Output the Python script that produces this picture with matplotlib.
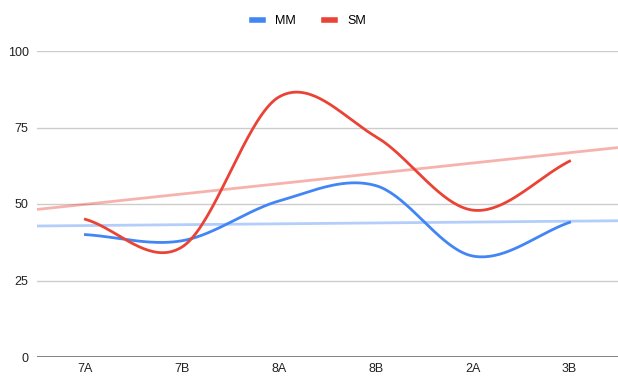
import numpy as np
import matplotlib
matplotlib.use("Agg")
import matplotlib.pyplot as plt
from matplotlib.lines import Line2D

plt.rcParams['font.family'] = ['Liberation Sans', 'DejaVu Sans']

# data
categories = ['7A', '7B', '8A', '8B', '2A', '3B']
mm_values = [40, 38, 51, 56, 33, 44]
sm_values = [45, 36, 85, 72, 48, 64]
y_ticks = [0, 25, 50, 75, 100]

BLUE = '#4285F4'
RED = '#EA4335'


def smooth(xs, ys, steps=40):
	# cardinal (catmull-rom) curve through the points, like sheets "smooth"
	xs = np.asarray(xs, float)
	ys = np.asarray(ys, float)
	n = len(xs)
	m = np.zeros(n)
	for i in range(n):
		if i == 0:
			m[i] = (ys[1] - ys[0]) / (xs[1] - xs[0])
		elif i == n - 1:
			m[i] = (ys[-1] - ys[-2]) / (xs[-1] - xs[-2])
		else:
			m[i] = (ys[i + 1] - ys[i - 1]) / (xs[i + 1] - xs[i - 1])
	px, py = [], []
	for i in range(n - 1):
		h = xs[i + 1] - xs[i]
		t = np.linspace(0, 1, steps, endpoint=False)
		h00 = 2 * t**3 - 3 * t**2 + 1
		h10 = t**3 - 2 * t**2 + t
		h01 = -2 * t**3 + 3 * t**2
		h11 = t**3 - t**2
		px.extend(xs[i] + t * h)
		py.extend(h00 * ys[i] + h10 * h * m[i] + h01 * ys[i + 1] + h11 * h * m[i + 1])
	px.append(xs[-1])
	py.append(ys[-1])
	return np.array(px), np.array(py)


x = np.arange(len(categories))

fig = plt.figure(figsize=(6.18, 3.76), dpi=100)
ax = fig.add_axes([37 / 618, 19 / 376, 1 - 37 / 618, 306 / 376])

for v in y_ticks[1:]:
	ax.axhline(v, color='#cccccc', lw=1, zorder=0)
ax.axhline(0, color='#777777', lw=2, zorder=1)

# trendlines (linear fit), drawn across the whole plot width
xt = np.array([-0.5, 5.5])
for vals, col in [(mm_values, BLUE), (sm_values, RED)]:
	k, b = np.polyfit(x, vals, 1)
	ax.plot(xt, k * xt + b, color=col, alpha=0.4, lw=2, zorder=2, solid_capstyle='butt')

for vals, col in [(mm_values, BLUE), (sm_values, RED)]:
	sx, sy = smooth(x, vals)
	ax.plot(sx, sy, color=col, lw=2, zorder=3)

ax.set_xlim(-0.5, 5.5)
ax.set_ylim(0, 100)
ax.set_xticks(x)
ax.set_xticklabels(categories)
ax.set_yticks(y_ticks)
ax.tick_params(length=0, labelsize=9, colors='#222222')
ax.tick_params(axis='y', pad=6)
ax.tick_params(axis='x', pad=4.5)
for s in ax.spines.values():
	s.set_visible(False)

handles = [Line2D([], [], color=BLUE, lw=4), Line2D([], [], color=RED, lw=4)]
fig.legend(handles, ['MM', 'SM'], loc='center', bbox_to_anchor=(0.5, 1 - 21 / 376),
	ncol=2, frameon=False, fontsize=9, handlelength=0.9, handletextpad=1.0, columnspacing=2.2)

fig.savefig('out.png', dpi=100)
